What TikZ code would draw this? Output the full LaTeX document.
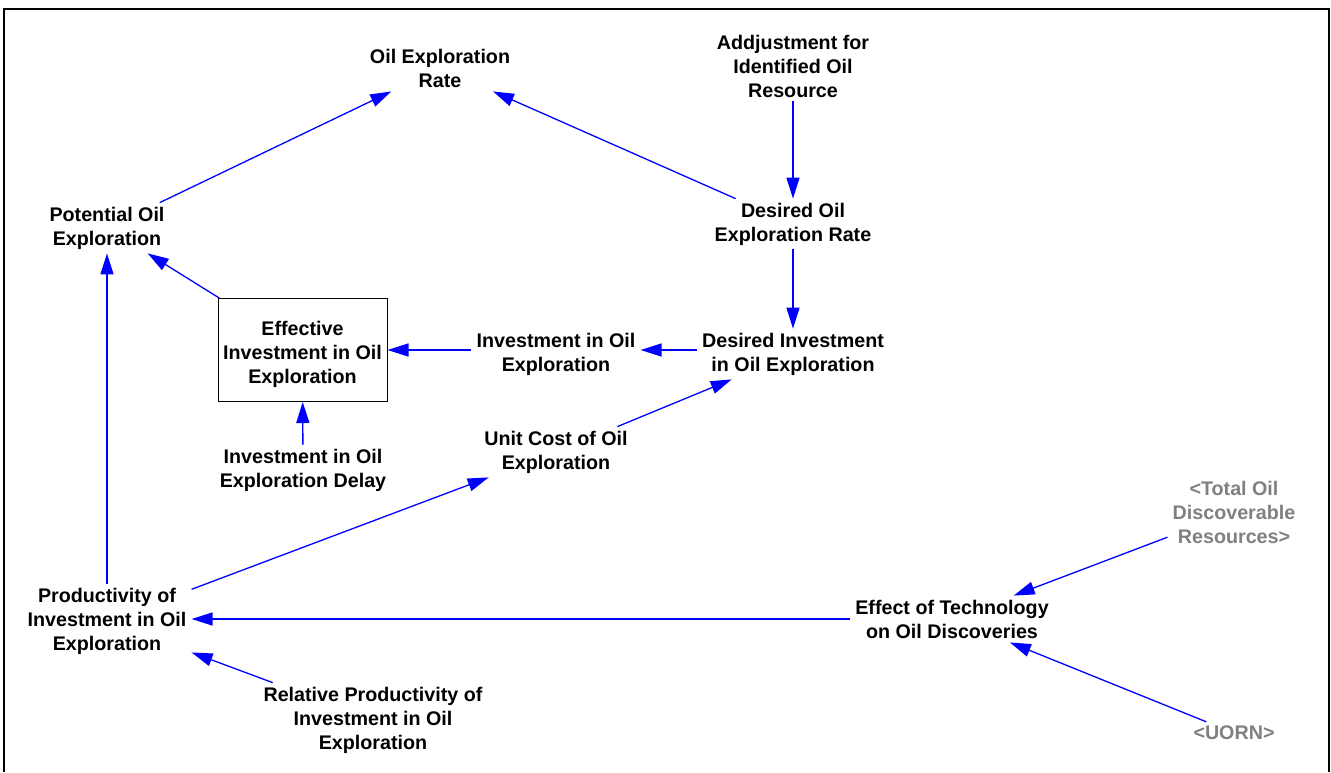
\documentclass[tikz,border=0pt]{standalone}
\usepackage{fontspec}
\setmainfont{Liberation Sans}
\usetikzlibrary{arrows.meta}
\definecolor{linkblue}{RGB}{0,0,255}
\definecolor{shadowgray}{RGB}{128,128,128}

\begin{document}
\begin{tikzpicture}[x=1pt,y=-1pt,
  var/.style={align=center, font=\fontsize{19.7}{24}\selectfont\bfseries,
    inner xsep=5pt, inner ysep=4pt},
  shadowvar/.style={var, text=shadowgray},
  levelbox/.style={var, draw=black, line width=1pt, minimum width=169pt,
    minimum height=103pt, inner sep=0pt},
  link/.style={draw=linkblue, line width=1.3pt,
    -{Triangle[length=21pt,width=13pt]}}
]
\useasboundingbox (0,0) rectangle (1331,772);
% outer frame
\draw[line width=1.6pt] (4,772) -- (4,9) -- (1329,9) -- (1329,772);

% variables
\node[var] (oer)   at (440,68)  {Oil Exploration\\Rate};
\node[var] (adj)   at (793,66)  {Addjustment for\\Identified Oil\\Resource};
\node[var] (doer)  at (793,224) {Desired Oil\\Exploration Rate};
\node[var] (poe)   at (107,228) {Potential Oil\\Exploration};
\node[levelbox] (eioe) at (302.5,350)
  {\rule{0pt}{22.4pt}Effective\\Investment in Oil\\Exploration};
\node[var] (ioe)   at (556,354) {Investment in Oil\\Exploration};
\node[var] (dioe)  at (793,354) {Desired Investment\\in Oil Exploration};
\node[var] (ioed)  at (303,470) {Investment in Oil\\Exploration Delay};
\node[var] (ucoe)  at (556,452) {Unit Cost of Oil\\Exploration};
\node[var] (pioe)  at (107,621) {Productivity of\\Investment in Oil\\Exploration};
\node[var] (rpioe) at (373,720) {Relative Productivity of\\Investment in Oil\\Exploration};
\node[var] (eot)   at (952,619) {Effect of Technology\\on Oil Discoveries};
\node[shadowvar] (todr) at (1234,512) {<Total Oil\\Discoverable\\Resources>};
\node[shadowvar] (uorn) at (1234,733) {<UORN>};

% causal links
\draw[link] (poe)   -- (oer);
\draw[link] (doer)  -- (oer);
\draw[link] (adj)   -- (doer);
\draw[link] (doer)  -- (dioe);
\draw[link] (dioe.west |- eioe) -- (ioe.east |- eioe);
\draw[link] (ioe.west |- eioe)  -- (eioe);
\draw[link] (eioe)  -- (poe);
\draw[link] (ioed)  -- (eioe);
\draw[link] (pioe)  -- (poe);
\draw[link] (pioe)  -- (ucoe);
\draw[link] (ucoe)  -- (dioe);
\draw[link] (eot.west) -- (eot.west -| pioe.east);
\draw[link] (rpioe) -- (pioe);
\draw[link] (todr)  -- (eot);
\draw[link] (uorn)  -- (eot);
\end{tikzpicture}
\end{document}
